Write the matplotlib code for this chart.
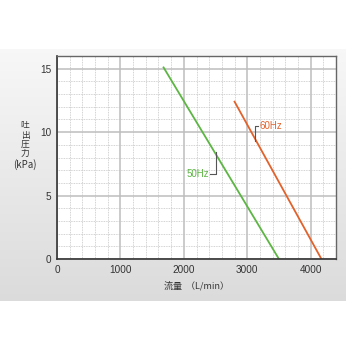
import numpy as np
import matplotlib
matplotlib.use("Agg")
import matplotlib.pyplot as plt
from matplotlib.ticker import MultipleLocator

plt.rcParams['font.family'] = ['Liberation Sans', 'Noto Sans CJK JP', 'DejaVu Sans']

# 流量 (L/min) と 吐出圧力 (kPa)
flow_50 = [1680, 3500]
pres_50 = [15.1, 0]
flow_60 = [2800, 4170]
pres_60 = [12.4, 0]

x_ticks = [0, 1000, 2000, 3000, 4000]
y_ticks = [0, 5, 10, 15]
y_label_parts = ['吐', '出', '圧', '力', '(kPa)']

fig = plt.figure(figsize=(3.5, 3.5), dpi=100)

# 背景パネル (グラデーション)
bg = fig.add_axes([0, 0.14, 0.986, 0.72])
grad = np.linspace(0, 1, 256).reshape(-1, 1)
grad = np.hstack([grad, grad])
top = np.array([0.97, 0.97, 0.97])
bot = np.array([0.86, 0.86, 0.86])
img = top + (bot - top) * grad[:, :, None]
bg.imshow(img, aspect='auto', extent=[0, 1, 0, 1], origin='upper')
bg.axis('off')

ax = fig.add_axes([0.163, 0.26, 0.797, 0.58])
ax.set_facecolor('white')
ax.set_xlim(0, 4400)
ax.set_ylim(0, 16)
ax.set_xticks(x_ticks)
ax.set_yticks(y_ticks)
ax.xaxis.set_minor_locator(MultipleLocator(200))
ax.yaxis.set_minor_locator(MultipleLocator(1))
ax.grid(which='minor', color='#c4c4c4', lw=0.6, ls=(0, (1, 1)))
ax.grid(which='major', color='#bdbdbd', lw=1.1)
ax.set_axisbelow(True)
ax.tick_params(which='both', length=0, labelsize=7.2, colors='#333333', pad=4)
for s in ['left', 'bottom']:
    ax.spines[s].set_color('#333333')
    ax.spines[s].set_linewidth(1.2)
for s in ['top', 'right']:
    ax.spines[s].set_color('#666666')
    ax.spines[s].set_linewidth(1.0)

ax.plot(flow_50, pres_50, color='#5db544', lw=1.3)
ax.plot(flow_60, pres_60, color='#e2622c', lw=1.3)

# ラベルと引き出し線
ax.plot([2504, 2504, 2420], [8.4, 6.7, 6.7], color='#555555', lw=0.8)
ax.text(2400, 6.7, '50Hz', color='#5db544', fontsize=7, ha='right', va='center')
ax.plot([3118, 3118, 3170], [9.3, 10.5, 10.5], color='#555555', lw=0.8)
ax.text(3190, 10.5, '60Hz', color='#e2622c', fontsize=7, ha='left', va='center')

ax.set_xlabel('流量  （L/min）', fontsize=6.5, color='#333333', labelpad=5,
              family=['Noto Sans CJK JP'])

# 縦書きの軸ラベル
for i, part in enumerate(y_label_parts):
    yy = 0.640 - i * 0.026 - (0.006 if i == 4 else 0)
    fig.text(0.072, yy, part, fontsize=6.3 if i < 4 else 7, color='#333333',
             ha='center', va='center', family=['Noto Sans CJK JP'])

fig.savefig('out.png', dpi=100, facecolor='white')
